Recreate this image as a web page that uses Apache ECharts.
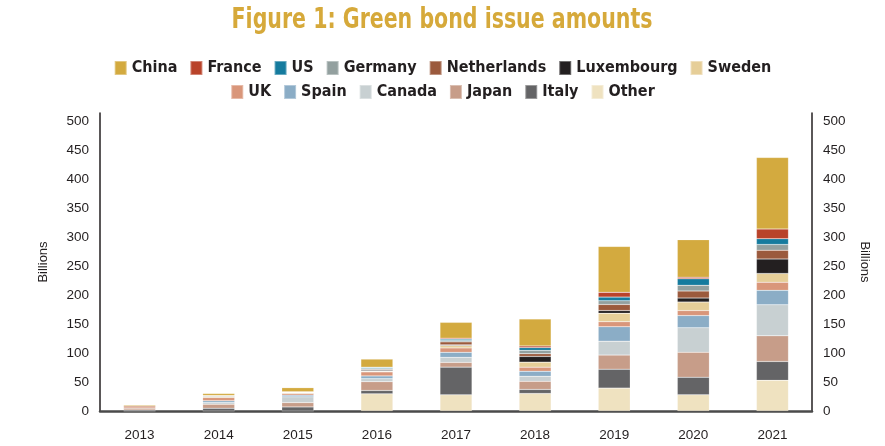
<!DOCTYPE html>
<html>
<head>
<meta charset="utf-8">
<script src="https://cdn.jsdelivr.net/npm/echarts@6/dist/echarts.min.js"></script>
<style>
  html, body { margin: 0; padding: 0; background: #fff; }
  #chart { width: 885px; height: 446px; }
</style>
</head>
<body>
<div id="chart"></div>
<script>
// Green bond issuance by country, billions
const years = ['2013', '2014', '2015', '2016', '2017', '2018', '2019', '2020', '2021'];

const china       = [1.7, 3.5, 7, 14, 27.4, 46.6, 79.3, 64.7, 123.5];
const france      = [0, 0.3, 0.3, 0.6, 1.7, 2.9, 8.2, 2.9, 16.9];
const us          = [0, 0.3, 0.5, 1.7, 2.3, 4.7, 6.4, 11.1, 9.9];
const germany     = [0, 1.2, 0.5, 1.7, 2.3, 5.8, 6.4, 9.9, 9.9];
const netherlands = [0, 0, 0.5, 1.2, 5.2, 4.7, 10.5, 12.2, 15.2];
const luxembourg  = [0, 0, 0, 1.7, 1.2, 9.9, 4.7, 7, 25];
const sweden      = [0, 1.7, 1.2, 1.2, 4.1, 8.7, 14.6, 14.6, 15.2];
const uk          = [4, 5.8, 2.9, 7, 7.6, 7, 8.7, 8.7, 14];
const spain       = [0, 2.9, 2.9, 4.7, 8.7, 8.7, 25, 21, 25];
const canada      = [0, 2.9, 9.9, 5.2, 8.7, 8.7, 23.9, 42.5, 53.6];
const japan       = [3.5, 7, 7.6, 15.2, 8.2, 14, 24.5, 43.1, 44.3];
const italy       = [1.7, 4.7, 7, 5.8, 47.8, 7, 32.6, 30.3, 32.6];
const other       = [0, 0, 0, 29.7, 28, 30.3, 39.6, 28, 53];

// stacked from the bottom up
const stack = [
  ['Other', other, '#EFE2C0'],
  ['Italy', italy, '#646466'],
  ['Japan', japan, '#C79D89'],
  ['Canada', canada, '#C8D0D2'],
  ['Spain', spain, '#8BADC6'],
  ['UK', uk, '#D9967A'],
  ['Sweden', sweden, '#E6CE98'],
  ['Luxembourg', luxembourg, '#231F20'],
  ['Netherlands', netherlands, '#9B5A3D'],
  ['Germany', germany, '#93A09F'],
  ['US', us, '#157B9E'],
  ['France', france, '#B9432A'],
  ['China', china, '#D3AA3F']
];

const legendRow1 = ['China', 'France', 'US', 'Germany', 'Netherlands', 'Luxembourg', 'Sweden'];
const legendRow2 = ['UK', 'Spain', 'Canada', 'Japan', 'Italy', 'Other'];

const narrow = '"DejaVu Sans Condensed", "Liberation Sans Narrow", "Arial Narrow", sans-serif';
const plain = '"Liberation Sans", Arial, sans-serif';

const legendBase = {
  left: 'center',
  icon: 'rect',
  itemWidth: 12,
  itemHeight: 14,
  itemGap: 12,
  selectedMode: false,
  textStyle: { fontFamily: narrow, fontWeight: 'bold', fontSize: 16, color: '#231F20' }
};

const yAxisBase = {
  type: 'value',
  min: 0,
  max: 515,
  interval: 50,
  name: 'Billions',
  nameLocation: 'middle',
  nameTextStyle: { fontFamily: plain, fontSize: 13, color: '#231F20' },
  axisLine: { show: true, lineStyle: { color: '#231F20', width: 1.5 } },
  axisTick: { show: false },
  splitLine: { show: false },
  axisLabel: { showMaxLabel: false, margin: 11, fontFamily: plain, fontSize: 13.5, color: '#231F20' }
};

const chart = echarts.init(document.getElementById('chart'), null, { renderer: 'canvas' });
chart.setOption({
  animation: false,
  backgroundColor: '#fff',
  // heading: a bold face squeezed horizontally for a condensed look
  graphic: [{
    type: 'text',
    x: 442,
    y: 21,
    scaleX: 0.815,
    style: {
      text: 'Figure 1: Green bond issue amounts',
      font: 'bold 28px "DejaVu Sans Condensed", "DejaVu Sans", sans-serif',
      fill: '#D6A93A',
      textAlign: 'center',
      textVerticalAlign: 'middle'
    }
  }],
  legend: [
    Object.assign({}, legendBase, { top: 55, data: legendRow1 }),
    Object.assign({}, legendBase, { top: 79, data: legendRow2 })
  ],
  grid: { left: 100, right: 73, top: 113, bottom: 35 },
  xAxis: {
    type: 'category',
    data: years,
    axisLine: { lineStyle: { color: '#4a4a4a', width: 2.5 } },
    axisTick: { show: false },
    axisLabel: { margin: 17, fontFamily: plain, fontSize: 13.5, color: '#231F20' }
  },
  yAxis: [
    Object.assign({}, yAxisBase, { position: 'left', nameGap: 50, nameRotate: 90 }),
    Object.assign({}, yAxisBase, { position: 'right', nameGap: 46, nameRotate: -90 })
  ],
  series: stack.map(([name, values, color]) => ({
    name: name,
    type: 'bar',
    stack: 'total',
    barWidth: 32,
    data: values,
    itemStyle: { color: color, borderColor: 'rgba(255,255,255,0.35)', borderWidth: 0.5 }
  }))
});
</script>
</body>
</html>
